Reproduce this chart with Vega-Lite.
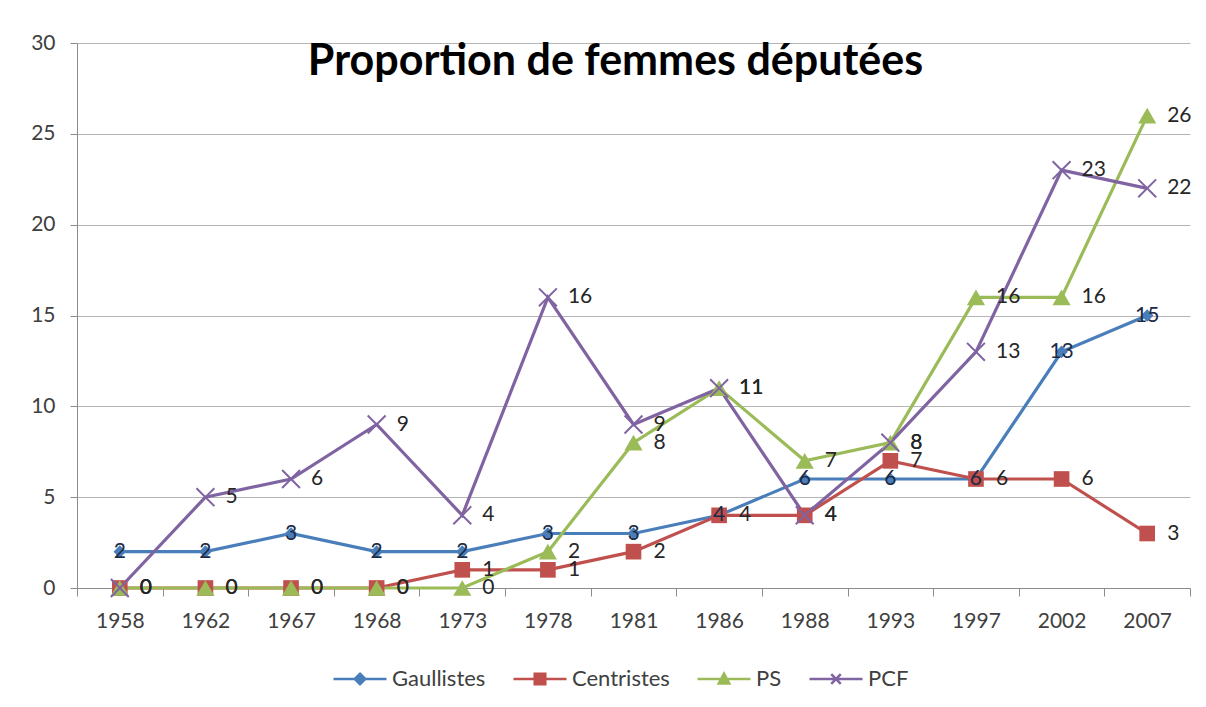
{
  "$schema": "https://vega.github.io/schema/vega-lite/v6.json",
  "width": 1113,
  "height": 545,
  "autosize": {"type": "none"},
  "padding": {"left": 77, "top": 43, "right": 16, "bottom": 119},
  "background": "#ffffff",
  "title": {
    "text": "Proportion de femmes députées",
    "font": "Lato",
    "fontSize": 43,
    "fontWeight": "bold",
    "color": "#000000",
    "anchor": "middle",
    "frame": "group",
    "baseline": "alphabetic",
    "offset": -86,
    "dx": -18
  },
  "config": {
    "view": {"stroke": null},
    "font": "Lato",
    "axis": {
      "labelFont": "Lato",
      "labelFontSize": 21,
      "labelColor": "#404040",
      "domainColor": "#8c8c8c",
      "tickColor": "#8c8c8c",
      "gridColor": "#b5b5b5",
      "title": null
    }
  },
  "data": {
    "values": [
      {"year": "1958", "party": "Gaullistes", "value": 2},
      {"year": "1962", "party": "Gaullistes", "value": 2},
      {"year": "1967", "party": "Gaullistes", "value": 3},
      {"year": "1968", "party": "Gaullistes", "value": 2},
      {"year": "1973", "party": "Gaullistes", "value": 2},
      {"year": "1978", "party": "Gaullistes", "value": 3},
      {"year": "1981", "party": "Gaullistes", "value": 3},
      {"year": "1986", "party": "Gaullistes", "value": 4},
      {"year": "1988", "party": "Gaullistes", "value": 6},
      {"year": "1993", "party": "Gaullistes", "value": 6},
      {"year": "1997", "party": "Gaullistes", "value": 6},
      {"year": "2002", "party": "Gaullistes", "value": 13},
      {"year": "2007", "party": "Gaullistes", "value": 15},
      {"year": "1958", "party": "Centristes", "value": 0},
      {"year": "1962", "party": "Centristes", "value": 0},
      {"year": "1967", "party": "Centristes", "value": 0},
      {"year": "1968", "party": "Centristes", "value": 0},
      {"year": "1973", "party": "Centristes", "value": 1},
      {"year": "1978", "party": "Centristes", "value": 1},
      {"year": "1981", "party": "Centristes", "value": 2},
      {"year": "1986", "party": "Centristes", "value": 4},
      {"year": "1988", "party": "Centristes", "value": 4},
      {"year": "1993", "party": "Centristes", "value": 7},
      {"year": "1997", "party": "Centristes", "value": 6},
      {"year": "2002", "party": "Centristes", "value": 6},
      {"year": "2007", "party": "Centristes", "value": 3},
      {"year": "1958", "party": "PS", "value": 0},
      {"year": "1962", "party": "PS", "value": 0},
      {"year": "1967", "party": "PS", "value": 0},
      {"year": "1968", "party": "PS", "value": 0},
      {"year": "1973", "party": "PS", "value": 0},
      {"year": "1978", "party": "PS", "value": 2},
      {"year": "1981", "party": "PS", "value": 8},
      {"year": "1986", "party": "PS", "value": 11},
      {"year": "1988", "party": "PS", "value": 7},
      {"year": "1993", "party": "PS", "value": 8},
      {"year": "1997", "party": "PS", "value": 16},
      {"year": "2002", "party": "PS", "value": 16},
      {"year": "2007", "party": "PS", "value": 26},
      {"year": "1958", "party": "PCF", "value": 0},
      {"year": "1962", "party": "PCF", "value": 5},
      {"year": "1967", "party": "PCF", "value": 6},
      {"year": "1968", "party": "PCF", "value": 9},
      {"year": "1973", "party": "PCF", "value": 4},
      {"year": "1978", "party": "PCF", "value": 16},
      {"year": "1981", "party": "PCF", "value": 9},
      {"year": "1986", "party": "PCF", "value": 11},
      {"year": "1988", "party": "PCF", "value": 4},
      {"year": "1993", "party": "PCF", "value": 8},
      {"year": "1997", "party": "PCF", "value": 13},
      {"year": "2002", "party": "PCF", "value": 23},
      {"year": "2007", "party": "PCF", "value": 22}
    ]
  },
  "encoding": {
    "x": {
      "field": "year",
      "type": "ordinal",
      "bandPosition": 0.5,
      "scale": {"type": "band", "paddingInner": 0, "paddingOuter": 0},
      "axis": {
        "labelAngle": 0,
        "tickBand": "extent",
        "tickSize": 8,
        "labelPadding": 14,
        "grid": false
      }
    },
    "y": {
      "field": "value",
      "type": "quantitative",
      "scale": {"domain": [0, 30], "nice": false},
      "axis": {
        "values": [0, 5, 10, 15, 20, 25, 30],
        "tickSize": 7,
        "labelPadding": 15,
        "grid": true
      }
    }
  },
  "layer": [
    {
      "mark": {"type": "line", "strokeWidth": 3.2},
      "encoding": {
        "color": {
          "field": "party",
          "type": "nominal",
          "scale": {
            "domain": ["Gaullistes", "Centristes", "PS", "PCF"],
            "range": ["#4a7ebb", "#c0504d", "#9bbb59", "#8064a2"]
          },
          "legend": {
            "orient": "none",
            "legendX": 255,
            "legendY": 608,
            "padding": 0,
            "direction": "horizontal",
            "title": null,
            "labelFont": "Lato",
            "labelFontSize": 22,
            "labelColor": "#404040",
            "labelOffset": 4,
            "columnPadding": 22,
            "symbolSize": 2809,
            "symbolStrokeWidth": 2.5,
            "encode": {
              "symbols": {
                "update": {
                  "shape": {"signal": "datum.value === 'Gaullistes' ? 'M-1,0L1,0M0,-0.2L0.2,0L0,0.2L-0.2,0Z' : datum.value === 'Centristes' ? 'M-1,0L1,0M-0.2,-0.2L0.2,-0.2L0.2,0.2L-0.2,0.2Z' : datum.value === 'PS' ? 'M-1,0L1,0M0,-0.2L0.2,0.17L-0.2,0.17Z' : 'M-1,0L1,0M-0.18,-0.18L0.18,0.18M-0.18,0.18L0.18,-0.18'"},
                  "fill": {"signal": "scale('color', datum.value)"},
                  "stroke": {"signal": "scale('color', datum.value)"},
                  "strokeWidth": {"value": 2.5},
                  "opacity": {"value": 1},
                  "fillOpacity": {"value": 1},
                  "strokeDash": {"value": []}
                }
              }
            }
          }
        }
      }
    },
    {
      "transform": [{"filter": "datum.party !== 'PCF'"}],
      "mark": {"type": "point", "filled": true, "opacity": 1},
      "encoding": {
        "color": {"field": "party", "type": "nominal", "legend": null},
        "shape": {
          "field": "party",
          "type": "nominal",
          "scale": {
            "domain": ["Gaullistes", "Centristes", "PS"],
            "range": ["diamond", "square", "triangle-up"]
          },
          "legend": null
        },
        "size": {
          "field": "party",
          "type": "nominal",
          "scale": {"domain": ["Gaullistes", "Centristes", "PS"], "range": [160, 330, 250]},
          "legend": null
        }
      }
    },
    {
      "transform": [{"filter": "datum.party === 'PCF'"}],
      "mark": {"type": "point", "filled": false, "opacity": 1, "strokeWidth": 2, "shape": "M-1,-1L1,1M-1,1L1,-1", "size": 320},
      "encoding": {
        "color": {"field": "party", "type": "nominal", "legend": null}
      }
    },
    {
      "transform": [{"filter": "datum.party === 'Gaullistes'"}],
      "mark": {"type": "text", "align": "center", "baseline": "middle", "font": "Lato", "fontSize": 21, "color": "#1c2b45"},
      "encoding": {"text": {"field": "value", "type": "quantitative"}}
    },
    {
      "transform": [{"filter": "datum.party !== 'Gaullistes'"}],
      "mark": {"type": "text", "align": "left", "baseline": "middle", "dx": 20, "font": "Lato", "fontSize": 21, "color": "#262626"},
      "encoding": {"text": {"field": "value", "type": "quantitative"}}
    }
  ]
}
